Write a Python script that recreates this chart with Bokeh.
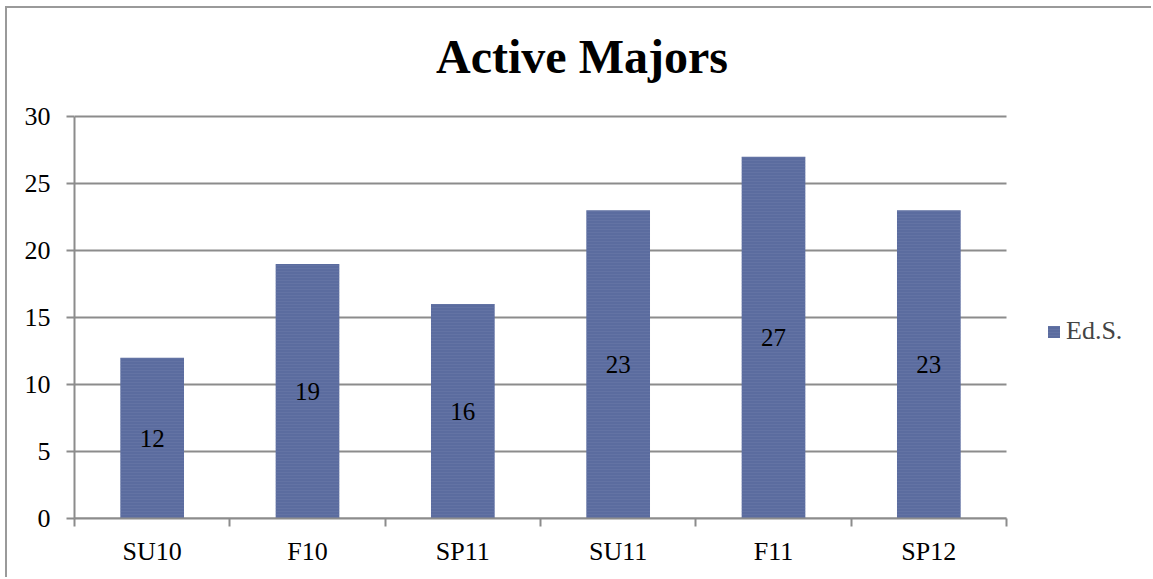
from bokeh.plotting import figure
from bokeh.models import (Range1d, FixedTicker, ColumnDataSource, LabelSet, Legend,
                          LegendItem, Label)
from bokeh.embed import file_html
from bokeh.resources import INLINE

categories = ["SU10", "F10", "SP11", "SU11", "F11", "SP12"]
values = [12, 19, 16, 23, 27, 23]
series_name = "Ed.S."
title_text = "Active Majors"
y_ticks = [0, 5, 10, 15, 20, 25, 30]

FONT = "Liberation Serif"
BAR = "#5b6c9f"
GRID = "#8c8c8c"
FS = "26px"

n = len(categories)
y_max = y_ticks[-1]
xs = [i + 0.5 for i in range(n)]
src = ColumnDataSource(dict(x=xs, top=values, mid=[v / 2 for v in values],
                            lab=[str(v) for v in values], cat=categories))

# The frame spans to the right and top edges so that the legend and the title
# can sit inside it; the category area covers 932 x 402 px of its 1079 x 510 px.
x_end = n * 1079 / 932
y_end = y_max * 510 / 402

p = figure(width=1146, height=571, output_backend="svg", toolbar_location=None,
           x_range=Range1d(0, x_end), y_range=Range1d(0, y_end),
           min_border_left=67, min_border_right=0, min_border_top=0,
           min_border_bottom=61)
p.styles = {"margin-left": "5px", "margin-top": "6px",
            "border-left": "2px solid #9a9a9a", "border-top": "2px solid #9a9a9a"}
p.outline_line_color = None
p.background_fill_color = "white"

# horizontal gridlines limited to the category area
p.segment(x0=[0] * len(y_ticks), x1=[n] * len(y_ticks), y0=y_ticks, y1=y_ticks,
          line_color=GRID, line_width=2, level="underlay")

r = p.vbar(x="x", top="top", width=0.41, bottom=0, source=src,
           fill_color=BAR, line_color=None,
           hatch_pattern="horizontal_line", hatch_color="#7a88b2",
           hatch_alpha=0.25, hatch_scale=3, hatch_weight=1)

labels = LabelSet(x="x", y="mid", text="lab", source=src, text_align="center",
                  text_baseline="middle", text_font=FONT, text_font_size="25px",
                  text_color="black")
p.add_layout(labels)

# axes
p.xaxis.bounds = (0, n)
p.xaxis.ticker = FixedTicker(ticks=xs, minor_ticks=list(range(n + 1)))
p.xaxis.major_label_overrides = {x: c for x, c in zip(xs, categories)}
p.xaxis.major_tick_line_color = None
p.xaxis.minor_tick_in = 0
p.xaxis.minor_tick_out = 8
p.xaxis.minor_tick_line_color = GRID
p.xaxis.minor_tick_line_width = 2
p.xaxis.axis_line_color = GRID
p.xaxis.axis_line_width = 2
p.xaxis.major_label_text_font = FONT
p.xaxis.major_label_text_font_size = FS
p.xaxis.major_label_text_color = "black"
p.xaxis.major_label_standoff = 10

p.yaxis.bounds = (0, y_max)
p.yaxis.ticker = FixedTicker(ticks=y_ticks)
p.yaxis.minor_tick_line_color = None
p.yaxis.major_tick_in = 0
p.yaxis.major_tick_out = 8
p.yaxis.major_tick_line_color = GRID
p.yaxis.major_tick_line_width = 2
p.yaxis.axis_line_color = GRID
p.yaxis.axis_line_width = 2
p.yaxis.major_label_text_font = FONT
p.yaxis.major_label_text_font_size = FS
p.yaxis.major_label_text_color = "black"
p.yaxis.major_label_standoff = 16

p.xgrid.grid_line_color = None
p.ygrid.grid_line_color = None

title = Label(x=3.267, y=34.45, text=title_text, text_font=FONT,
              text_font_size="48px", text_font_style="bold", text_color="black",
              text_align="center", text_baseline="alphabetic")
p.add_layout(title)

legend = Legend(items=[LegendItem(label=series_name, renderers=[r])],
                location=(972, 172), border_line_color=None,
                background_fill_alpha=0, padding=0, margin=0,
                label_text_font=FONT, label_text_font_size=FS,
                glyph_width=15, glyph_height=15, label_standoff=5,
                label_height=15)
p.add_layout(legend)

open("out.html", "w").write(file_html(p, INLINE))
